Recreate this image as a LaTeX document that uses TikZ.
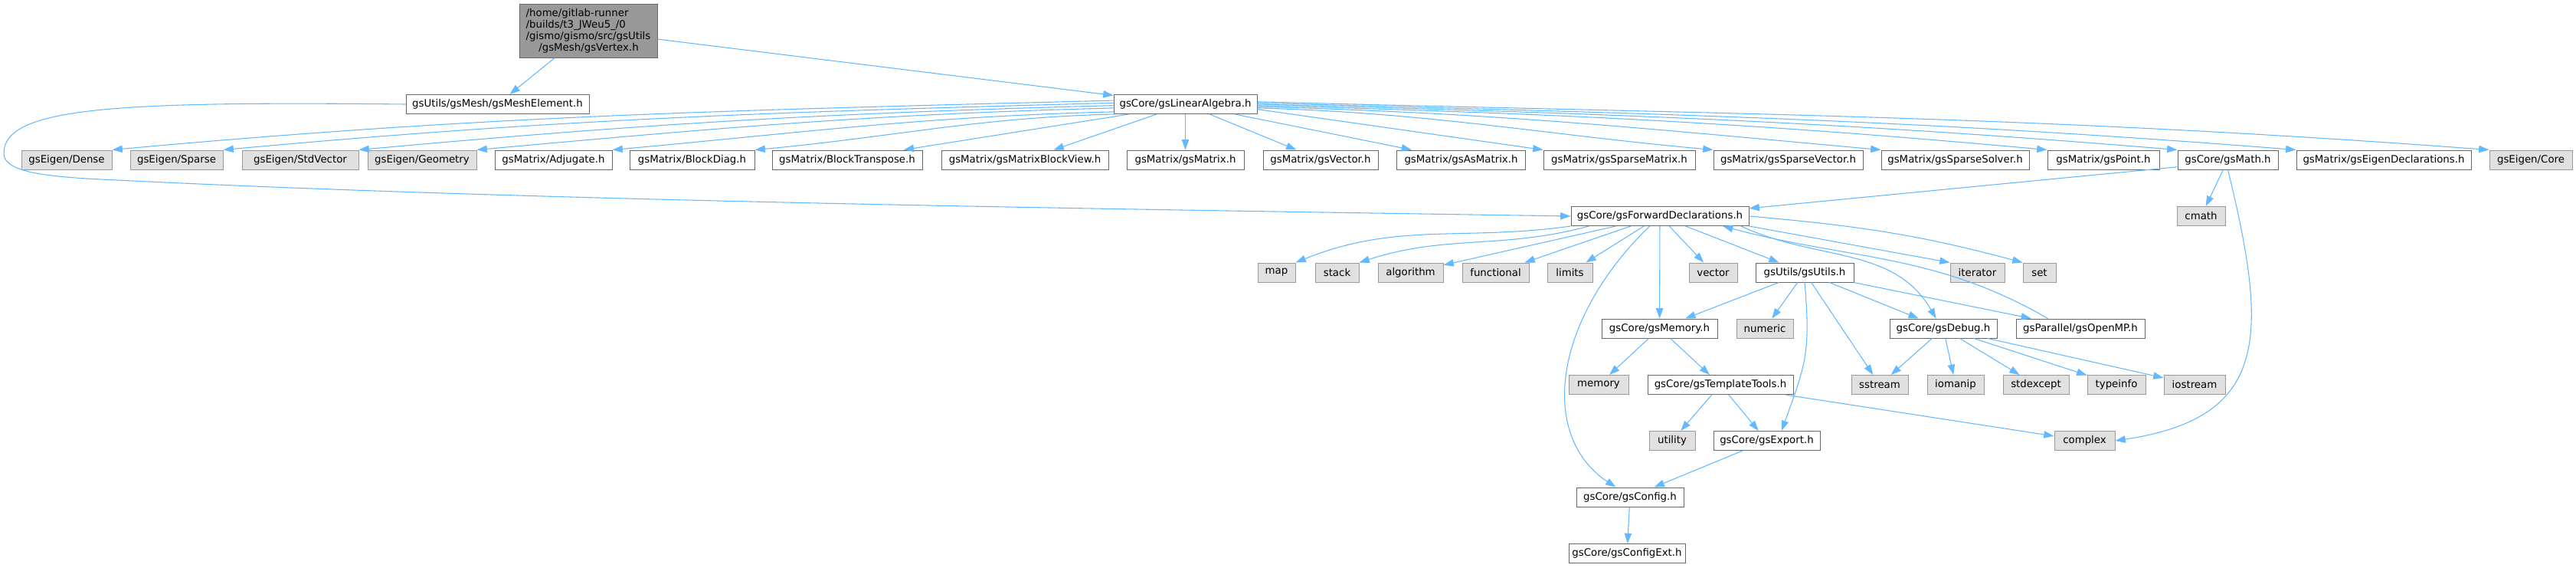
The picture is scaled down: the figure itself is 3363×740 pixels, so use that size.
\documentclass[tikz,border=0pt]{standalone}
\usepackage{fontspec}
\setmainfont{DejaVu Sans}
\usetikzlibrary{arrows.meta}
\definecolor{edgeblue}{RGB}{99,184,255}
\definecolor{hdrline}{RGB}{102,102,102}
\definecolor{sysline}{RGB}{153,153,153}
\definecolor{sysfill}{RGB}{224,224,224}
\definecolor{curfill}{RGB}{153,153,153}

\begin{document}
\begin{tikzpicture}[x=0.75pt,y=0.75pt,
  hdr/.style={draw=hdrline,fill=white,line width=0.75pt,minimum height=18.75pt,inner sep=1pt,font=\fontsize{10}{12}\selectfont},
  sys/.style={hdr,draw=sysline,fill=sysfill},
  cur/.style={hdr,fill=curfill,align=left,font=\fontsize{10}{11.25}\selectfont},
  inc/.style={draw=edgeblue,line width=0.8pt,-{Triangle[length=10pt,width=7pt]}}]
\useasboundingbox (0,0) rectangle (3363,-740);
% the documented file
\node[cur,minimum width=135pt,minimum height=52.5pt] (vertex) at (768,-40) {/home/gitlab-runner\\/builds/t3\_JWeu5\_/0\\/gismo/gismo/src/gsUtils\\\hspace*{12.5pt}/gsMesh/gsVertex.h};
\node[hdr,minimum width=179.25pt] (meshel) at (649.5,-136) {gsUtils/gsMesh/gsMeshElement.h};
\node[hdr,minimum width=140.25pt] (linalg) at (1547.5,-136) {gsCore/gsLinearAlgebra.h};
% included by gsLinearAlgebra.h
\node[sys,minimum width=88.5pt] (dense) at (87,-208.5) {gsEigen/Dense};
\node[sys,minimum width=90.75pt] (sparse) at (230.5,-208.5) {gsEigen/Sparse};
\node[sys,minimum width=114pt] (stdvec) at (392,-208.5) {gsEigen/StdVector};
\node[sys,minimum width=106.5pt] (geom) at (551,-208.5) {gsEigen/Geometry};
\node[hdr,minimum width=114.75pt] (adj) at (722.5,-208.5) {gsMatrix/Adjugate.h};
\node[hdr,minimum width=122.25pt] (blkdiag) at (903.5,-208.5) {gsMatrix/BlockDiag.h};
\node[hdr,minimum width=147pt] (blktr) at (1106,-208.5) {gsMatrix/BlockTranspose.h};
\node[hdr,minimum width=163.5pt] (blkview) at (1338,-208.5) {gsMatrix/gsMatrixBlockView.h};
\node[hdr,minimum width=114.75pt] (gsmat) at (1547.5,-208.5) {gsMatrix/gsMatrix.h};
\node[hdr,minimum width=112.5pt] (gsvec) at (1724,-208.5) {gsMatrix/gsVector.h};
\node[hdr,minimum width=126pt] (asmat) at (1907.5,-208.5) {gsMatrix/gsAsMatrix.h};
\node[hdr,minimum width=148.5pt] (spmat) at (2114,-208.5) {gsMatrix/gsSparseMatrix.h};
\node[hdr,minimum width=146.25pt] (spvec) at (2334.5,-208.5) {gsMatrix/gsSparseVector.h};
\node[hdr,minimum width=144.75pt] (spsolv) at (2552.5,-208.5) {gsMatrix/gsSparseSolver.h};
\node[hdr,minimum width=109.5pt] (gspt) at (2746,-208.5) {gsMatrix/gsPoint.h};
\node[hdr,minimum width=98.25pt] (gsmath) at (2908.5,-208.5) {gsCore/gsMath.h};
\node[hdr,minimum width=171pt] (eigdecl) at (3112,-208.5) {gsMatrix/gsEigenDeclarations.h};
\node[sys,minimum width=81pt] (core) at (3304,-208.5) {gsEigen/Core};
% next levels
\node[hdr,minimum width=174pt] (fwd) at (2167,-282) {gsCore/gsForwardDeclarations.h};
\node[sys,minimum width=47.25pt] (cmath) at (2873.5,-282) {cmath};
\node[sys,minimum width=36.75pt] (map) at (1666.5,-355.5) {map};
\node[sys,minimum width=42.75pt] (stack) at (1745.5,-355.5) {stack};
\node[sys,minimum width=63.75pt] (algo) at (1841.5,-355.5) {algorithm};
\node[sys,minimum width=65.25pt] (functional) at (1952.5,-355.5) {functional};
\node[sys,minimum width=44.25pt] (limits) at (2049.5,-355.5) {limits};
\node[sys,minimum width=47.25pt] (vector) at (2236.5,-355.5) {vector};
\node[hdr,minimum width=96pt] (gsutils) at (2356,-355.5) {gsUtils/gsUtils.h};
\node[sys,minimum width=53.25pt] (iterator) at (2581.5,-355.5) {iterator};
\node[sys,minimum width=32.25pt] (set) at (2662.5,-355.5) {set};
\node[hdr,minimum width=113.25pt] (gsmem) at (2166.5,-428.5) {gsCore/gsMemory.h};
\node[sys,minimum width=55.5pt] (numeric) at (2304,-428.5) {numeric};
\node[hdr,minimum width=105pt] (gsdebug) at (2537,-428.5) {gsCore/gsDebug.h};
\node[hdr,minimum width=126pt] (openmp) at (2716,-428.5) {gsParallel/gsOpenMP.h};
\node[sys,minimum width=58.5pt] (memory) at (2087,-502) {memory};
\node[hdr,minimum width=142.5pt] (tmpl) at (2246,-502) {gsCore/gsTemplateTools.h};
\node[sys,minimum width=55.5pt] (sstream) at (2454,-502) {sstream};
\node[sys,minimum width=55.5pt] (iomanip) at (2553,-502) {iomanip};
\node[sys,minimum width=64.5pt] (stdexcept) at (2658,-502) {stdexcept};
\node[sys,minimum width=57pt] (typeinfo) at (2763,-502) {typeinfo};
\node[sys,minimum width=60pt] (iostream) at (2865,-502) {iostream};
\node[sys,minimum width=45pt] (utility) at (2183,-575) {utility};
\node[hdr,minimum width=104.25pt] (gsexport) at (2306.5,-575) {gsCore/gsExport.h};
\node[sys,minimum width=59.25pt] (complex) at (2721.5,-575) {complex};
\node[hdr,minimum width=105pt] (gsconfig) at (2128,-648.5) {gsCore/gsConfig.h};
\node[hdr,minimum width=114pt] (gsconfigext) at (2124,-722) {gsCore/gsConfigExt.h};
\coordinate (loopL) at (5,-200);
\coordinate (loopB) at (153,-235);
% edges
\draw[inc] (vertex) -- (meshel);
\draw[inc] (vertex) -- (linalg);
\draw[inc] (meshel.west) .. controls (150,-132) and (5,-140) .. (loopL)
  .. controls (5,-225) and (60,-231) .. (loopB)
  .. controls (700,-262) and (1400,-272) .. (fwd.west);
\draw[inc] (linalg.177) .. controls (957,-144) and (643,-150) .. (dense.north east);
\draw[inc] (linalg.179) .. controls (1012,-146) and (733,-155) .. (sparse.north east);
\draw[inc] (linalg.181) .. controls (1079,-147.5) and (843,-161.5) .. (stdvec.north east);
\draw[inc] (linalg.183) .. controls (1138,-149) and (938,-167) .. (geom.north east);
\draw[inc] (linalg.186) .. controls (1205,-152) and (1048,-173) .. (adj.north east);
\draw[inc] (linalg.188) .. controls (1278,-153) and (1165,-179) .. (blkdiag.north east);
\draw[inc] (linalg.190) -- (blktr.10);
\draw[inc] (linalg) -- (blkview);
\draw[inc] (linalg) -- (gsmat);
\draw[inc] (linalg) -- (gsvec);
\draw[inc] (linalg) -- (asmat);
\draw[inc] (linalg.-4) -- (spmat.north west);
\draw[inc] (linalg.-3) .. controls (1867,-147) and (2011,-175) .. (spvec.north west);
\draw[inc] (linalg.-2) .. controls (1951,-147) and (2146,-167.5) .. (spsolv.north west);
\draw[inc] (linalg.-1) .. controls (2033,-148) and (2281,-160) .. (gspt.north west);
\draw[inc] (linalg.0) .. controls (2098,-148) and (2386,-158) .. (gsmath.north west);
\draw[inc] (linalg.1) .. controls (2157,-148) and (2482,-155) .. (eigdecl.north west);
\draw[inc] (linalg.2) .. controls (2252,-149) and (2639,-150) .. (core.north west);
\draw[inc] (gsmath.188) -- (fwd.5);
\draw[inc] (gsmath) -- (cmath);
\draw[inc] (gsmath.south) .. controls (2962,-440) and (2962,-545) .. (complex.east);
\draw[inc] (fwd.south west) to[out=188,in=22] (map.north east);
\draw[inc] (fwd.188) to[out=195,in=18] (stack.north east);
\draw[inc] (fwd) -- (algo);
\draw[inc] (fwd) -- (functional);
\draw[inc] (fwd) -- (limits);
\draw[inc] (fwd) -- (vector);
\draw[inc] (fwd) -- (gsutils);
\draw[inc] (fwd) -- (gsmem);
\draw[inc] (fwd.south east) -- (iterator.north west);
\draw[inc] (fwd.east) to[out=-5,in=165] (set.north west);
\draw[inc] (fwd.353) to[out=-25,in=120] (gsdebug.126);
\draw[inc] (fwd.224) .. controls (2025,-420) and (2010,-570) .. (gsconfig.145);
\draw[inc] (openmp.163) to[out=150,in=-15] (fwd.351);
\draw[inc] (gsutils) -- (gsmem);
\draw[inc] (gsutils) -- (numeric);
\draw[inc] (gsutils) -- (sstream);
\draw[inc] (gsutils.south) to[out=-85,in=70,looseness=1.2] (gsexport.34);
\draw[inc] (gsutils) -- (gsdebug);
\draw[inc] (gsutils) -- (openmp);
\draw[inc] (gsdebug) -- (sstream);
\draw[inc] (gsdebug) -- (iomanip);
\draw[inc] (gsdebug) -- (stdexcept);
\draw[inc] (gsdebug) -- (typeinfo);
\draw[inc] (gsdebug) -- (iostream);
\draw[inc] (gsmem) -- (memory);
\draw[inc] (gsmem) -- (tmpl);
\draw[inc] (tmpl) -- (utility);
\draw[inc] (tmpl) -- (gsexport);
\draw[inc] (tmpl) -- (complex);
\draw[inc] (gsexport) -- (gsconfig);
\draw[inc] (gsconfig) -- (gsconfigext);
\end{tikzpicture}
\end{document}
